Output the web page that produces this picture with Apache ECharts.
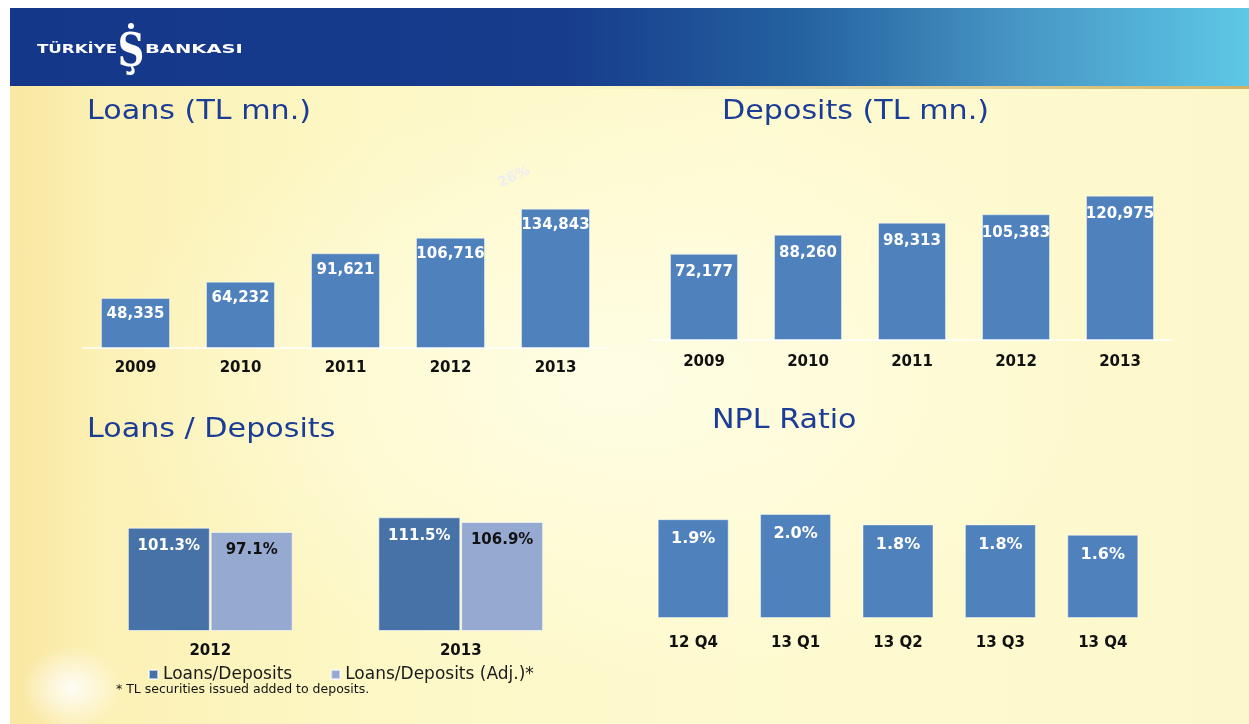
<!DOCTYPE html>
<html>
<head>
<meta charset="utf-8">
<script src="https://cdn.jsdelivr.net/npm/echarts@6/dist/echarts.min.js"></script>
<style>
  html, body { margin: 0; padding: 0; background: #fff; }
  #slide {
    position: absolute; left: 10px; top: 8px; width: 1239px; height: 716px;
    background:
      radial-gradient(ellipse 50px 42px at 5% 95%, rgba(255,255,255,0.9) 0%, rgba(255,255,255,0) 100%),
      radial-gradient(ellipse 500px 300px at 48% 52%, rgba(255,254,232,0.85) 0%, rgba(255,254,232,0) 100%),
      linear-gradient(180deg, #fff39a 0px, #fdf7c0 30px, rgba(253,247,192,0) 60px),
      linear-gradient(90deg, #f9e7a2 0%, #fcf1b6 8%, #fdf8c6 30%, #fefad0 60%, #fdf8cc 100%);
  }
  #chart { position: absolute; left: 0; top: 0; width: 1249px; height: 724px; }
</style>
</head>
<body>
<div id="slide"></div>
<div id="chart"></div>
<script>
// data
var years = ['2009', '2010', '2011', '2012', '2013'];
var loans = [48335, 64232, 91621, 106716, 134843];
var deposits = [72177, 88260, 98313, 105383, 120975];

var ldYears = ['2012', '2013'];
var ldRatio = [101.3, 111.5];
var ldRatioAdj = [97.1, 106.9];

var nplQuarters = ['12 Q4', '13 Q1', '13 Q2', '13 Q3', '13 Q4'];
var nplRatio = [1.9, 2.0, 1.8, 1.8, 1.6];

var FONT = 'DejaVu Sans';
var BLUE = '#4f81bd';
var TITLE = '#1c3d96';

var myChart = echarts.init(document.getElementById('chart'), null, {renderer: 'canvas'});

function catAxis(idx, data, margin, showLine) {
    return {
        type: 'category',
        gridIndex: idx,
        data: data,
        axisTick: {show: false},
        axisLine: {show: showLine, lineStyle: {color: '#ffffff', width: 1.5}},
        axisLabel: {
            margin: margin,
            color: '#111',
            fontFamily: FONT,
            fontWeight: 'bold',
            fontSize: 15
        }
    };
}

function valAxis(idx, max) {
    return {type: 'value', gridIndex: idx, min: 0, max: max, show: false};
}

function lbl(color, dist, size, fmt) {
    return {
        show: true,
        position: 'insideTop',
        distance: dist,
        color: color,
        fontFamily: FONT,
        fontWeight: 'bold',
        fontSize: size,
        formatter: fmt
    };
}

var fmtNum = function (p) { return p.value.toLocaleString('en-US'); };
var fmtPct = function (p) { return p.value.toFixed(1) + '%'; };

// slide titles, stretched a little like the original face
function heading(text, x, y) {
    return {
        type: 'text', x: x, y: y, scaleX: 1.16, silent: true,
        style: {text: text, fill: TITLE, font: '26px "DejaVu Sans"', verticalAlign: 'middle'}
    };
}

var option = {
    backgroundColor: 'transparent',
    animation: false,
    legend: {
        left: 148,
        top: 666,
        icon: 'rect',
        itemWidth: 9,
        itemHeight: 9,
        itemGap: 38,
        padding: 0,
        textStyle: {color: '#1a1a1a', fontFamily: FONT, fontSize: 17},
        data: ['Loans/Deposits', 'Loans/Deposits (Adj.)*']
    },
    grid: [
        {left: 83, width: 525, top: 193, height: 155},
        {left: 652, width: 520, top: 161, height: 179},
        {left: 85, width: 501, top: 478, height: 153},
        {left: 642, width: 512, top: 462, height: 156}
    ],
    xAxis: [
        catAxis(0, years, 13, true),
        catAxis(1, years, 15, true),
        catAxis(2, ldYears, 13, false),
        catAxis(3, nplQuarters, 18, false)
    ],
    yAxis: [
        valAxis(0, 150000),
        valAxis(1, 150000),
        valAxis(2, 150),
        valAxis(3, 3)
    ],
    series: [
        {
            type: 'bar', xAxisIndex: 0, yAxisIndex: 0, data: loans, barWidth: 69,
            itemStyle: {color: BLUE, borderColor: 'rgba(255,255,255,0.45)', borderWidth: 1},
            label: lbl('#ffffff', 9, 15, fmtNum)
        },
        {
            type: 'bar', xAxisIndex: 1, yAxisIndex: 1, data: deposits, barWidth: 68,
            itemStyle: {color: BLUE, borderColor: 'rgba(255,255,255,0.45)', borderWidth: 1},
            label: lbl('#ffffff', 11, 15, fmtNum)
        },
        {
            name: 'Loans/Deposits', type: 'bar', xAxisIndex: 2, yAxisIndex: 2, data: ldRatio,
            barWidth: 82, barGap: '1%',
            itemStyle: {color: '#4672a8', borderColor: 'rgba(255,255,255,0.6)', borderWidth: 1},
            label: lbl('#ffffff', 11, 15, fmtPct)
        },
        {
            name: 'Loans/Deposits (Adj.)*', type: 'bar', xAxisIndex: 2, yAxisIndex: 2, data: ldRatioAdj,
            barWidth: 82, barGap: '1%',
            itemStyle: {color: '#95a9d1', borderColor: 'rgba(255,255,255,0.6)', borderWidth: 1},
            label: lbl('#111111', 11, 15, fmtPct)
        },
        {
            type: 'bar', xAxisIndex: 3, yAxisIndex: 3, data: nplRatio, barWidth: 71,
            itemStyle: {color: BLUE, borderColor: 'rgba(255,255,255,0.45)', borderWidth: 1},
            label: lbl('#ffffff', 12, 16, fmtPct)
        }
    ],
    graphic: [
        // header band
        {
            type: 'rect', z: -1, silent: true,
            shape: {x: 10, y: 8, width: 1239, height: 78},
            style: {
                fill: new echarts.graphic.LinearGradient(0, 0, 1, 0, [
                    {offset: 0, color: '#15378a'},
                    {offset: 0.45, color: '#173c8c'},
                    {offset: 0.64, color: '#2462a0'},
                    {offset: 0.8, color: '#4592c2'},
                    {offset: 1, color: '#5ec8e6'}
                ])
            }
        },
        {
            type: 'rect', z: -1, silent: true,
            shape: {x: 560, y: 86, width: 689, height: 3},
            style: {
                fill: new echarts.graphic.LinearGradient(0, 0, 1, 0, [
                    {offset: 0, color: 'rgba(200,160,60,0)'},
                    {offset: 1, color: 'rgba(190,145,55,0.7)'}
                ])
            }
        },
        // logo
        {
            type: 'text', x: 37, y: 50, scaleX: 1.28, silent: true,
            style: {text: 'TÜRKİYE', fill: '#ffffff', font: 'bold 13px "DejaVu Sans"', verticalAlign: 'middle'}
        },
        {
            type: 'text', x: 131, y: 54, scaleX: 0.8, silent: true,
            style: {text: 'Ş', fill: '#ffffff', font: 'bold 46px "DejaVu Serif"', align: 'center', verticalAlign: 'middle'}
        },
        {
            type: 'circle', silent: true,
            shape: {cx: 131, cy: 26, r: 3},
            style: {fill: '#ffffff'}
        },
        {
            type: 'text', x: 145, y: 50, scaleX: 1.5, silent: true,
            style: {text: 'BANKASI', fill: '#ffffff', font: 'bold 13px "DejaVu Sans"', verticalAlign: 'middle'}
        },
        heading('Loans (TL mn.)', 87, 112),
        heading('Deposits (TL mn.)', 722, 112),
        heading('Loans / Deposits', 87, 430),
        heading('NPL Ratio', 712, 421),
        // faint watermark
        {
            type: 'text', x: 514, y: 177, rotation: 0.42, silent: true,
            style: {text: '26%', fill: 'rgba(236,236,245,0.95)', font: 'bold 14px "DejaVu Sans"', align: 'center', verticalAlign: 'middle'}
        },
        // footnote
        {
            type: 'text', x: 116, y: 690, silent: true,
            style: {text: '* TL securities issued added to deposits.', fill: '#111', font: '12.5px "DejaVu Sans"', verticalAlign: 'middle'}
        }
    ]
};

myChart.setOption(option);
</script>
</body>
</html>
